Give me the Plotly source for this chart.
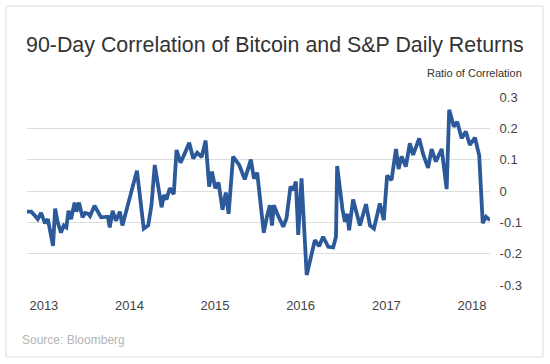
import plotly.graph_objects as go

dates = [
    "2012-10-21", "2012-11-08", "2012-11-25", "2012-12-06", "2012-12-20",
    "2013-01-06", "2013-01-18", "2013-01-23", "2013-02-09", "2013-02-18",
    "2013-03-01", "2013-03-15", "2013-03-27", "2013-04-07", "2013-04-16",
    "2013-04-27", "2013-05-12", "2013-05-20", "2013-05-31", "2013-06-15",
    "2013-06-26", "2013-07-10", "2013-07-17", "2013-08-05", "2013-08-19",
    "2013-09-02", "2013-10-01", "2013-10-09", "2013-10-21", "2013-11-04",
    "2013-11-21", "2013-12-02", "2014-02-02", "2014-03-03", "2014-03-22",
    "2014-04-05", "2014-04-19", "2014-05-03", "2014-05-18", "2014-05-28",
    "2014-06-08", "2014-06-22", "2014-07-09", "2014-07-21", "2014-08-07",
    "2014-08-25", "2014-09-13", "2014-09-30", "2014-10-17", "2014-11-05",
    "2014-11-22", "2014-12-07", "2014-12-19", "2015-01-02", "2015-01-16",
    "2015-02-02", "2015-02-16", "2015-02-28", "2015-03-19", "2015-04-14",
    "2015-05-08", "2015-06-03", "2015-06-16", "2015-06-30", "2015-07-28",
    "2015-08-11", "2015-08-23", "2015-09-01", "2015-09-09", "2015-09-23",
    "2015-10-19", "2015-11-02", "2015-11-19", "2015-11-30", "2015-12-12",
    "2015-12-22", "2016-01-05", "2016-01-27", "2016-03-02", "2016-03-20",
    "2016-04-06", "2016-04-28", "2016-05-19", "2016-05-31", "2016-06-05",
    "2016-06-28", "2016-07-08", "2016-07-18", "2016-07-26", "2016-08-12",
    "2016-09-10", "2016-10-06", "2016-10-23", "2016-11-09", "2016-12-04",
    "2016-12-21", "2017-01-04", "2017-01-23", "2017-02-11", "2017-02-22",
    "2017-03-07", "2017-03-25", "2017-04-11", "2017-04-25", "2017-05-21",
    "2017-06-07", "2017-06-28", "2017-07-13", "2017-07-31", "2017-08-25",
    "2017-09-15", "2017-09-26", "2017-10-16", "2017-10-30", "2017-11-18",
    "2017-12-06", "2017-12-23", "2018-01-14", "2018-02-01", "2018-02-16",
    "2018-03-02", "2018-03-19",
]

correlation = [
    -0.066, -0.066, -0.080, -0.090, -0.070,
    -0.103, -0.090, -0.110, -0.175, -0.056,
    -0.100, -0.133, -0.110, -0.116, -0.063,
    -0.090, -0.037, -0.066, -0.037, -0.084,
    -0.070, -0.073, -0.080, -0.047, -0.066,
    -0.084, -0.082, -0.116, -0.063, -0.095,
    -0.066, -0.110, 0.065, -0.120, -0.110,
    -0.045, 0.083, 0.014, -0.052, -0.013,
    -0.027, 0.009, -0.010, 0.131, 0.090,
    0.120, 0.154, 0.104, 0.122, 0.108,
    0.161, 0.014, 0.062, 0.009, 0.027,
    -0.060, -0.005, -0.073, 0.110, 0.083,
    0.037, 0.100, 0.040, 0.058, -0.133,
    -0.080, -0.045, -0.110, -0.045, -0.072,
    -0.114, -0.087, 0.014, 0.003, 0.030,
    -0.140, 0.040, -0.268, -0.157, -0.176,
    -0.146, -0.178, -0.180, -0.146, 0.080,
    -0.060, -0.098, -0.073, -0.125, -0.027,
    -0.110, -0.042, -0.110, -0.120, -0.040,
    -0.093, 0.049, 0.035, 0.134, 0.070,
    0.110, 0.078, 0.152, 0.115, 0.168,
    0.117, 0.074, 0.134, 0.094, 0.134,
    0.006, 0.259, 0.205, 0.221, 0.168,
    0.190, 0.147, 0.170, 0.113, -0.103,
    -0.082, -0.093,
]

year_ticks = ["2013-01-01", "2014-01-01", "2015-01-01", "2016-01-01", "2017-01-01", "2018-01-01"]
year_labels = ["2013", "2014", "2015", "2016", "2017", "2018"]
y_ticks = [0.3, 0.2, 0.1, 0, -0.1, -0.2, -0.3]
y_labels = ["0.3", "0.2", "0.1", "0", "-0.1", "-0.2", "-0.3"]

title_text = "90-Day Correlation of Bitcoin and S&amp;P Daily Returns"
unit_text = "Ratio of Correlation"
source_text = "Source: Bloomberg"

W, H = 550, 364
L, R, T, B = 27, 60, 97, 79
pw, ph = W - L - R, H - T - B


def px_x(px):
    return (px - L) / pw


def px_y(py):
    return (H - B - py) / ph


FONT = "Liberation Sans, Arial, Helvetica, sans-serif"

fig = go.Figure()
fig.add_trace(go.Scatter(
    x=dates, y=correlation, mode="lines",
    line=dict(color="#2b5999", width=3.8),
    hoverinfo="x+y", showlegend=False,
))

fig.update_layout(
    width=W, height=H,
    margin=dict(l=L, r=R, t=T, b=B),
    paper_bgcolor="white", plot_bgcolor="white",
    font=dict(family=FONT, color="#444444", size=13),
    title=dict(
        text=title_text, xref="container", yref="container",
        x=26 / W, xanchor="left", y=1 - 45 / H, yanchor="middle",
        font=dict(family=FONT, size=21.4, color="#333333"),
    ),
    xaxis=dict(
        range=[dates[0], dates[-1]],
        tickvals=year_ticks, ticktext=year_labels,
        showgrid=False, zeroline=False, showline=False,
        ticks="outside", ticklen=8, tickcolor="rgba(0,0,0,0)",
        tickfont=dict(size=13, color="#444444"),
    ),
    yaxis=dict(
        range=[-0.3, 0.3], side="right",
        tickvals=y_ticks, ticktext=y_labels,
        showgrid=True, gridcolor="#dedede", gridwidth=1,
        zeroline=False, showline=False,
        ticks="outside", ticklen=6, tickcolor="rgba(0,0,0,0)",
        tickfont=dict(size=13, color="#444444"),
    ),
    annotations=[
        dict(text=unit_text, xref="paper", yref="paper",
             x=px_x(524), y=px_y(73), xanchor="right", yanchor="middle",
             showarrow=False, font=dict(family=FONT, size=11, color="#333333")),
        dict(text=source_text, xref="paper", yref="paper",
             x=px_x(20), y=px_y(340), xanchor="left", yanchor="middle",
             showarrow=False, font=dict(family=FONT, size=12, color="#b4b4b4")),
    ],
    shapes=[
        dict(type="rect", xref="paper", yref="paper",
             x0=px_x(6), x1=px_x(543), y0=px_y(6), y1=px_y(357),
             line=dict(color="#dddddd", width=1), fillcolor="rgba(0,0,0,0)",
             layer="below"),
    ],
)

fig.write_html("out.html", config={"displayModeBar": False},
               post_script="document.body.style.margin='0';")
